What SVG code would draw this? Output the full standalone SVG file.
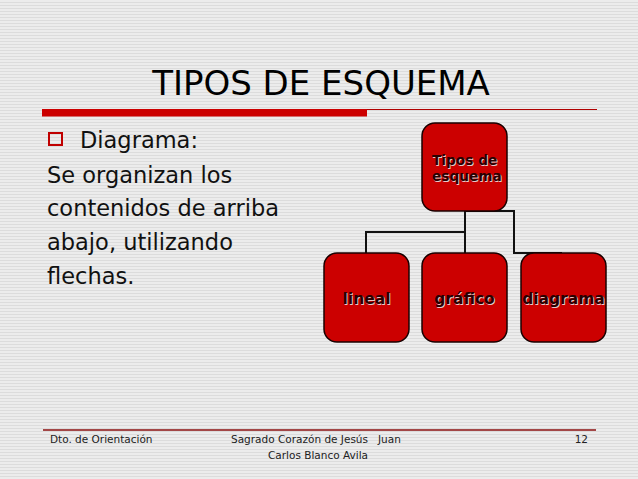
<svg xmlns="http://www.w3.org/2000/svg" width="638" height="479" viewBox="0 0 638 479">
<defs>
<pattern id="bg" width="4" height="3" patternUnits="userSpaceOnUse">
<rect width="4" height="3" fill="#ececec"/>
<rect y="2" width="4" height="1" fill="#dcdcdc"/>
</pattern>
</defs>
<style>
.node{fill:#cc0000;stroke:#1a0000;stroke-width:1.5}
.lbl{font-family:"DejaVu Sans",Verdana,sans-serif;font-weight:bold;fill:#2a0000}
.sh{font-family:"DejaVu Sans",Verdana,sans-serif;font-weight:bold;fill:#e8c8c8}
.body{font-family:"DejaVu Sans",Verdana,sans-serif;font-size:22.5px;fill:#111}
.foot{font-family:"DejaVu Sans",Tahoma,sans-serif;font-size:10.5px;fill:#222}
.conn{fill:none;stroke:#111;stroke-width:2}
</style>
<rect width="638" height="479" fill="url(#bg)"/>
<text x="321" y="95" text-anchor="middle" font-family="DejaVu Sans, Verdana, sans-serif" font-size="34" fill="#000">TIPOS DE ESQUEMA</text>
<rect x="42" y="109" width="325" height="7.5" fill="#cc0000"/>
<line x1="367" y1="109.5" x2="597" y2="109.5" stroke="#b00000" stroke-width="1"/>
<rect x="49" y="133" width="13" height="12" fill="none" stroke="#c00000" stroke-width="2"/>
<text class="body" x="80" y="148">Diagrama:</text>
<text class="body" x="47" y="183">Se organizan los</text>
<text class="body" x="47" y="216">contenidos de arriba</text>
<text class="body" x="47" y="250">abajo, utilizando</text>
<text class="body" x="47" y="284">flechas.</text>
<g id="connectors">
<path class="conn" d="M465 211 V232 H366 V253"/>
<path class="conn" d="M465 232 V253"/>
<path class="conn" d="M465 211 H514 V253 H562"/>
</g>
<g id="node-top">
<rect class="node" x="422" y="123" width="85" height="88" rx="13"/>
<text class="sh" x="433" y="166" font-size="13.7">Tipos de</text>
<text class="sh" x="433" y="182" font-size="13.7">esquema</text>
<text class="lbl" x="432" y="165" font-size="13.7">Tipos de</text>
<text class="lbl" x="432" y="181" font-size="13.7">esquema</text>
</g>
<g id="node-lineal">
<rect class="node" x="324" y="253" width="85" height="89" rx="13"/>
<text class="sh" x="367.5" y="305" font-size="15.5" text-anchor="middle">lineal</text>
<text class="lbl" x="366.5" y="304" font-size="15.5" text-anchor="middle">lineal</text>
</g>
<g id="node-grafico">
<rect class="node" x="422" y="253" width="85" height="89" rx="13"/>
<text class="sh" x="465.5" y="305" font-size="15.5" text-anchor="middle">gráfico</text>
<text class="lbl" x="464.5" y="304" font-size="15.5" text-anchor="middle">gráfico</text>
</g>
<g id="node-diagrama">
<rect class="node" x="521" y="253" width="85" height="89" rx="13"/>
<text class="sh" x="564.5" y="305" font-size="15.5" text-anchor="middle">diagrama</text>
<text class="lbl" x="563.5" y="304" font-size="15.5" text-anchor="middle">diagrama</text>
</g>
<line x1="43" y1="430" x2="596" y2="430" stroke="#8b1010" stroke-width="1.5"/>
<text class="foot" x="50" y="443">Dto. de Orientación</text>
<text class="foot" x="231" y="443" xml:space="preserve">Sagrado Corazón de Jesús   Juan</text>
<text class="foot" x="318" y="459" text-anchor="middle">Carlos Blanco Avila</text>
<text class="foot" x="588" y="443" text-anchor="end">12</text>
</svg>
